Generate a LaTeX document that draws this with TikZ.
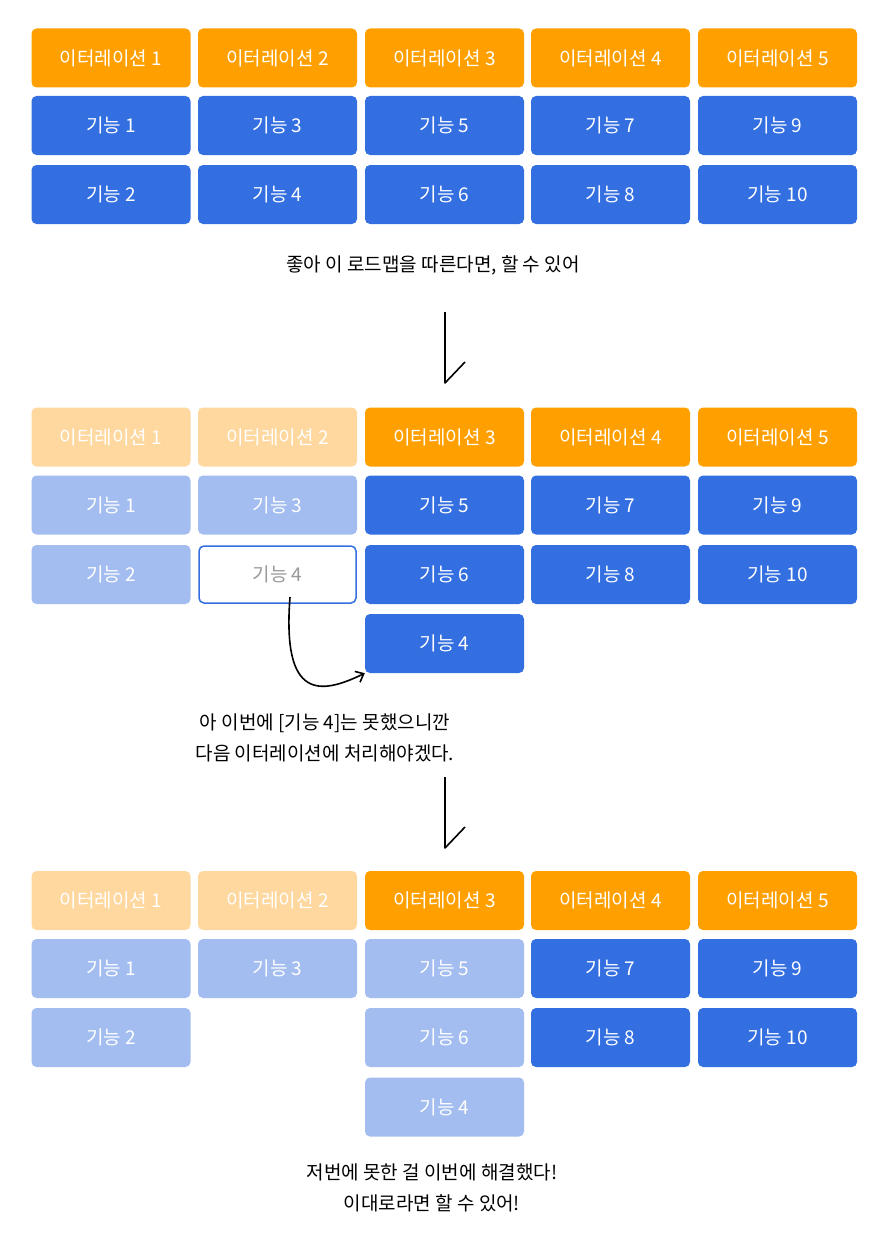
\documentclass[tikz,border=0pt]{standalone}
\usepackage{fontspec}
\setmainfont{Noto Sans CJK KR}
\usetikzlibrary{arrows.meta}
\definecolor{or}{HTML}{FFA000}
\definecolor{bl}{HTML}{336FE0}
\definecolor{for}{HTML}{FFD8A0}
\definecolor{fbl}{HTML}{A3BDF0}
\tikzset{
 bx/.style={rounded corners=5pt,minimum width=159pt,minimum height=59pt,text=white,font=\fontsize{19}{22}\selectfont,inner sep=0pt},
 it/.style={bx,fill=or},
 fi/.style={bx,fill=bl},
 fit/.style={bx,fill=for},
 ffi/.style={bx,fill=fbl},
 captxt/.style={font=\fontsize{19}{31}\selectfont,align=center,text=black},
 pen/.style={line width=1.6pt,black}
}
\begin{document}
\begin{tikzpicture}[x=1pt,y=-1pt]
\useasboundingbox (0,0) rectangle (894,1236);
\def\cx#1{\ifcase#1\or 111\or 277.5\or 444.5\or 610.5\or 777.5\fi}
% section 1
\foreach \i in {1,...,5}{\node[it] (a\i) at (\cx{\i},58) {이터레이션 \i};}
\node[fi] (af1) at (\cx1,125.5) {기능 1};
\node[fi] (af3) at (\cx2,125.5) {기능 3};
\node[fi] (af5) at (\cx3,125.5) {기능 5};
\node[fi] (af7) at (\cx4,125.5) {기능 7};
\node[fi] (af9) at (\cx5,125.5) {기능 9};
\node[fi] (af2) at (\cx1,194.5) {기능 2};
\node[fi] (af4) at (\cx2,194.5) {기능 4};
\node[fi] (af6) at (\cx3,194.5) {기능 6};
\node[fi] (af8) at (\cx4,194.5) {기능 8};
\node[fi] (af10) at (\cx5,194.5) {기능 10};
\node[captxt] (t1) at (433,265) {좋아 이 로드맵을 따른다면, 할 수 있어};
\coordinate (d1a) at (445,312); \coordinate (d1b) at (445,383); \coordinate (d1c) at (465,362);
\draw[pen,line join=round] (d1a) -- (d1b) -- (d1c);
% section 2
\node[fit] (b1) at (\cx1,437) {이터레이션 1};
\node[fit] (b2) at (\cx2,437) {이터레이션 2};
\node[it] (b3) at (\cx3,437) {이터레이션 3};
\node[it] (b4) at (\cx4,437) {이터레이션 4};
\node[it] (b5) at (\cx5,437) {이터레이션 5};
\node[ffi] (bf1) at (\cx1,505) {기능 1};
\node[ffi] (bf3) at (\cx2,505) {기능 3};
\node[fi] (bf5) at (\cx3,505) {기능 5};
\node[fi] (bf7) at (\cx4,505) {기능 7};
\node[fi] (bf9) at (\cx5,505) {기능 9};
\node[ffi] (bf2) at (\cx1,574.5) {기능 2};
\node[bx,fill=white,draw=bl,line width=1.5pt,text=gray!80,minimum width=157pt,minimum height=57pt] (bf4) at (\cx2,574.5) {기능 4};
\node[fi] (bf6) at (\cx3,574.5) {기능 6};
\node[fi] (bf8) at (\cx4,574.5) {기능 8};
\node[fi] (bf10) at (\cx5,574.5) {기능 10};
\node[fi] (bf4n) at (\cx3,643.5) {기능 4};
\draw[pen,-{Straight Barb[length=7pt,width=12pt]}] (290,597) .. controls (282,700) and (320,695) .. (bf4n.south west);
\node[captxt] (t2) at (325,738) {아 이번에 [기능 4]는 못했으니깐\\다음 이터레이션에 처리해야겠다.};
\coordinate (d2a) at (445,777); \coordinate (d2b) at (445,848); \coordinate (d2c) at (465,827);
\draw[pen,line join=round] (d2a) -- (d2b) -- (d2c);
% section 3
\node[fit] (c1) at (\cx1,900.5) {이터레이션 1};
\node[fit] (c2) at (\cx2,900.5) {이터레이션 2};
\node[it] (c3) at (\cx3,900.5) {이터레이션 3};
\node[it] (c4) at (\cx4,900.5) {이터레이션 4};
\node[it] (c5) at (\cx5,900.5) {이터레이션 5};
\node[ffi] (cf1) at (\cx1,968.5) {기능 1};
\node[ffi] (cf3) at (\cx2,968.5) {기능 3};
\node[ffi] (cf5) at (\cx3,968.5) {기능 5};
\node[fi] (cf7) at (\cx4,968.5) {기능 7};
\node[fi] (cf9) at (\cx5,968.5) {기능 9};
\node[ffi] (cf2) at (\cx1,1037.5) {기능 2};
\node[ffi] (cf6) at (\cx3,1037.5) {기능 6};
\node[fi] (cf8) at (\cx4,1037.5) {기능 8};
\node[fi] (cf10) at (\cx5,1037.5) {기능 10};
\node[ffi] (cf4) at (\cx3,1107) {기능 4};
\node[captxt] (t3) at (432,1188) {저번에 못한 걸 이번에 해결했다!\\이대로라면 할 수 있어!};
\end{tikzpicture}
\end{document}
